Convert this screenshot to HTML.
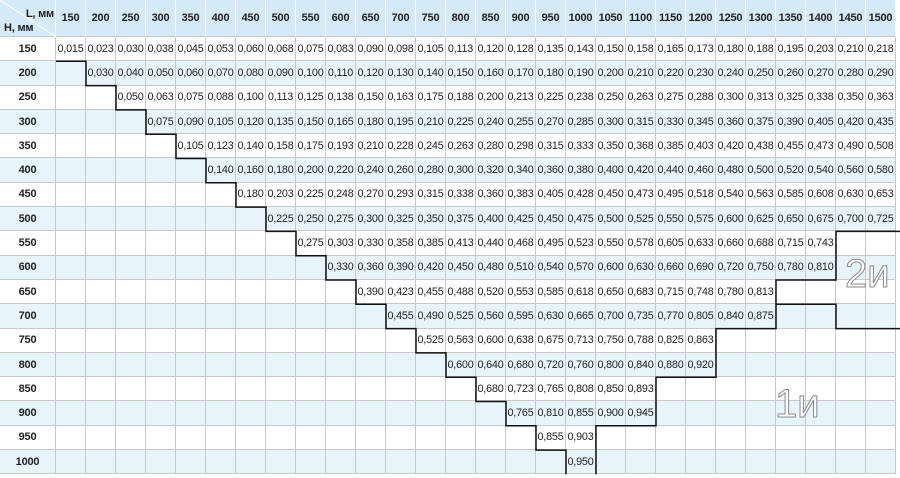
<!DOCTYPE html>
<html><head><meta charset="utf-8">
<style>
html,body{margin:0;padding:0;background:#fff;}
body{width:900px;height:478px;overflow:hidden;position:relative;font-family:"Liberation Sans",Arial,sans-serif;}
.g{position:absolute;left:0;top:0;display:grid;grid-template-columns:56px repeat(28,30px);grid-template-rows:37px repeat(18,24.3px);}
.r{display:contents;}
.r>p{margin:0;box-sizing:border-box;border-right:1px solid #c8c8c8;border-bottom:1px solid #c8c8c8;font-size:10.8px;color:#222;text-align:center;display:flex;align-items:center;justify-content:center;white-space:nowrap;letter-spacing:-0.2px;}
.r>p:first-child{font-weight:bold;font-size:11px;border-left:none;}
.w>p{background:#fff;}
.b>p{background:#e8f4fc;}
.hd>p{background:#d5eaf8;font-weight:bold;font-size:11px;color:#222;border-right:1px solid #fff;border-bottom:1px solid #c8c8c8;}
.hd>p:first-child{position:relative;}
.big{position:absolute;font-size:40px;color:#fff;-webkit-text-stroke:1px #8a8a8a;font-family:"Liberation Sans",sans-serif;}
svg.o{position:absolute;left:0;top:0;}
</style></head><body>
<div class="g">
<div class="r hd"><p><svg width="56" height="37" style="position:absolute;left:0;top:0"><line x1="0" y1="0" x2="56" y2="37" stroke="#fff" stroke-width="1"/><text x="54" y="17" font-size="11" font-weight="bold" text-anchor="end" fill="#222" font-family="Liberation Sans">L, мм</text><text x="4" y="31" font-size="11" font-weight="bold" fill="#222" font-family="Liberation Sans">H, мм</text></svg></p><p>150</p><p>200</p><p>250</p><p>300</p><p>350</p><p>400</p><p>450</p><p>500</p><p>550</p><p>600</p><p>650</p><p>700</p><p>750</p><p>800</p><p>850</p><p>900</p><p>950</p><p>1000</p><p>1050</p><p>1100</p><p>1150</p><p>1200</p><p>1250</p><p>1300</p><p>1350</p><p>1400</p><p>1450</p><p>1500</p></div>
<div class="r w"><p>150</p><p>0,015</p><p>0,023</p><p>0,030</p><p>0,038</p><p>0,045</p><p>0,053</p><p>0,060</p><p>0,068</p><p>0,075</p><p>0,083</p><p>0,090</p><p>0,098</p><p>0,105</p><p>0,113</p><p>0,120</p><p>0,128</p><p>0,135</p><p>0,143</p><p>0,150</p><p>0,158</p><p>0,165</p><p>0,173</p><p>0,180</p><p>0,188</p><p>0,195</p><p>0,203</p><p>0,210</p><p>0,218</p></div>
<div class="r b"><p>200</p><p></p><p>0,030</p><p>0,040</p><p>0,050</p><p>0,060</p><p>0,070</p><p>0,080</p><p>0,090</p><p>0,100</p><p>0,110</p><p>0,120</p><p>0,130</p><p>0,140</p><p>0,150</p><p>0,160</p><p>0,170</p><p>0,180</p><p>0,190</p><p>0,200</p><p>0,210</p><p>0,220</p><p>0,230</p><p>0,240</p><p>0,250</p><p>0,260</p><p>0,270</p><p>0,280</p><p>0,290</p></div>
<div class="r w"><p>250</p><p></p><p></p><p>0,050</p><p>0,063</p><p>0,075</p><p>0,088</p><p>0,100</p><p>0,113</p><p>0,125</p><p>0,138</p><p>0,150</p><p>0,163</p><p>0,175</p><p>0,188</p><p>0,200</p><p>0,213</p><p>0,225</p><p>0,238</p><p>0,250</p><p>0,263</p><p>0,275</p><p>0,288</p><p>0,300</p><p>0,313</p><p>0,325</p><p>0,338</p><p>0,350</p><p>0,363</p></div>
<div class="r b"><p>300</p><p></p><p></p><p></p><p>0,075</p><p>0,090</p><p>0,105</p><p>0,120</p><p>0,135</p><p>0,150</p><p>0,165</p><p>0,180</p><p>0,195</p><p>0,210</p><p>0,225</p><p>0,240</p><p>0,255</p><p>0,270</p><p>0,285</p><p>0,300</p><p>0,315</p><p>0,330</p><p>0,345</p><p>0,360</p><p>0,375</p><p>0,390</p><p>0,405</p><p>0,420</p><p>0,435</p></div>
<div class="r w"><p>350</p><p></p><p></p><p></p><p></p><p>0,105</p><p>0,123</p><p>0,140</p><p>0,158</p><p>0,175</p><p>0,193</p><p>0,210</p><p>0,228</p><p>0,245</p><p>0,263</p><p>0,280</p><p>0,298</p><p>0,315</p><p>0,333</p><p>0,350</p><p>0,368</p><p>0,385</p><p>0,403</p><p>0,420</p><p>0,438</p><p>0,455</p><p>0,473</p><p>0,490</p><p>0,508</p></div>
<div class="r b"><p>400</p><p></p><p></p><p></p><p></p><p></p><p>0,140</p><p>0,160</p><p>0,180</p><p>0,200</p><p>0,220</p><p>0,240</p><p>0,260</p><p>0,280</p><p>0,300</p><p>0,320</p><p>0,340</p><p>0,360</p><p>0,380</p><p>0,400</p><p>0,420</p><p>0,440</p><p>0,460</p><p>0,480</p><p>0,500</p><p>0,520</p><p>0,540</p><p>0,560</p><p>0,580</p></div>
<div class="r w"><p>450</p><p></p><p></p><p></p><p></p><p></p><p></p><p>0,180</p><p>0,203</p><p>0,225</p><p>0,248</p><p>0,270</p><p>0,293</p><p>0,315</p><p>0,338</p><p>0,360</p><p>0,383</p><p>0,405</p><p>0,428</p><p>0,450</p><p>0,473</p><p>0,495</p><p>0,518</p><p>0,540</p><p>0,563</p><p>0,585</p><p>0,608</p><p>0,630</p><p>0,653</p></div>
<div class="r b"><p>500</p><p></p><p></p><p></p><p></p><p></p><p></p><p></p><p>0,225</p><p>0,250</p><p>0,275</p><p>0,300</p><p>0,325</p><p>0,350</p><p>0,375</p><p>0,400</p><p>0,425</p><p>0,450</p><p>0,475</p><p>0,500</p><p>0,525</p><p>0,550</p><p>0,575</p><p>0,600</p><p>0,625</p><p>0,650</p><p>0,675</p><p>0,700</p><p>0,725</p></div>
<div class="r w"><p>550</p><p></p><p></p><p></p><p></p><p></p><p></p><p></p><p></p><p>0,275</p><p>0,303</p><p>0,330</p><p>0,358</p><p>0,385</p><p>0,413</p><p>0,440</p><p>0,468</p><p>0,495</p><p>0,523</p><p>0,550</p><p>0,578</p><p>0,605</p><p>0,633</p><p>0,660</p><p>0,688</p><p>0,715</p><p>0,743</p><p></p><p></p></div>
<div class="r b"><p>600</p><p></p><p></p><p></p><p></p><p></p><p></p><p></p><p></p><p></p><p>0,330</p><p>0,360</p><p>0,390</p><p>0,420</p><p>0,450</p><p>0,480</p><p>0,510</p><p>0,540</p><p>0,570</p><p>0,600</p><p>0,630</p><p>0,660</p><p>0,690</p><p>0,720</p><p>0,750</p><p>0,780</p><p>0,810</p><p></p><p></p></div>
<div class="r w"><p>650</p><p></p><p></p><p></p><p></p><p></p><p></p><p></p><p></p><p></p><p></p><p>0,390</p><p>0,423</p><p>0,455</p><p>0,488</p><p>0,520</p><p>0,553</p><p>0,585</p><p>0,618</p><p>0,650</p><p>0,683</p><p>0,715</p><p>0,748</p><p>0,780</p><p>0,813</p><p></p><p></p><p></p><p></p></div>
<div class="r b"><p>700</p><p></p><p></p><p></p><p></p><p></p><p></p><p></p><p></p><p></p><p></p><p></p><p>0,455</p><p>0,490</p><p>0,525</p><p>0,560</p><p>0,595</p><p>0,630</p><p>0,665</p><p>0,700</p><p>0,735</p><p>0,770</p><p>0,805</p><p>0,840</p><p>0,875</p><p></p><p></p><p></p><p></p></div>
<div class="r w"><p>750</p><p></p><p></p><p></p><p></p><p></p><p></p><p></p><p></p><p></p><p></p><p></p><p></p><p>0,525</p><p>0,563</p><p>0,600</p><p>0,638</p><p>0,675</p><p>0,713</p><p>0,750</p><p>0,788</p><p>0,825</p><p>0,863</p><p></p><p></p><p></p><p></p><p></p><p></p></div>
<div class="r b"><p>800</p><p></p><p></p><p></p><p></p><p></p><p></p><p></p><p></p><p></p><p></p><p></p><p></p><p></p><p>0,600</p><p>0,640</p><p>0,680</p><p>0,720</p><p>0,760</p><p>0,800</p><p>0,840</p><p>0,880</p><p>0,920</p><p></p><p></p><p></p><p></p><p></p><p></p></div>
<div class="r w"><p>850</p><p></p><p></p><p></p><p></p><p></p><p></p><p></p><p></p><p></p><p></p><p></p><p></p><p></p><p></p><p>0,680</p><p>0,723</p><p>0,765</p><p>0,808</p><p>0,850</p><p>0,893</p><p></p><p></p><p></p><p></p><p></p><p></p><p></p><p></p></div>
<div class="r b"><p>900</p><p></p><p></p><p></p><p></p><p></p><p></p><p></p><p></p><p></p><p></p><p></p><p></p><p></p><p></p><p></p><p>0,765</p><p>0,810</p><p>0,855</p><p>0,900</p><p>0,945</p><p></p><p></p><p></p><p></p><p></p><p></p><p></p><p></p></div>
<div class="r w"><p>950</p><p></p><p></p><p></p><p></p><p></p><p></p><p></p><p></p><p></p><p></p><p></p><p></p><p></p><p></p><p></p><p></p><p>0,855</p><p>0,903</p><p></p><p></p><p></p><p></p><p></p><p></p><p></p><p></p><p></p><p></p></div>
<div class="r b"><p>1000</p><p></p><p></p><p></p><p></p><p></p><p></p><p></p><p></p><p></p><p></p><p></p><p></p><p></p><p></p><p></p><p></p><p></p><p>0,950</p><p></p><p></p><p></p><p></p><p></p><p></p><p></p><p></p><p></p><p></p></div>
</div>
<svg class="o" width="900" height="478">
<path d="M56 61.3H86V85.6H116V109.9H146V134.2H176V158.5H206V182.8H236V207.1H266V231.4H296V255.7H326V280H356V304.3H386V328.6H416V352.9H446V377.2H476V401.5H506V425.8H536V450.1H566V474.4" fill="none" stroke="#111" stroke-width="1.5"/>
<path d="M596 474.4V425.8H656V377.2H716V328.6H776V280H836V231.4H900" fill="none" stroke="#111" stroke-width="1.5"/>
<path d="M776 304.3H836V328.6H900" fill="none" stroke="#111" stroke-width="1.5"/>
</svg>
<div class="big" style="left:845px;top:252px;">2и</div>
<div class="big" style="left:775px;top:382px;">1и</div>
</body></html>
